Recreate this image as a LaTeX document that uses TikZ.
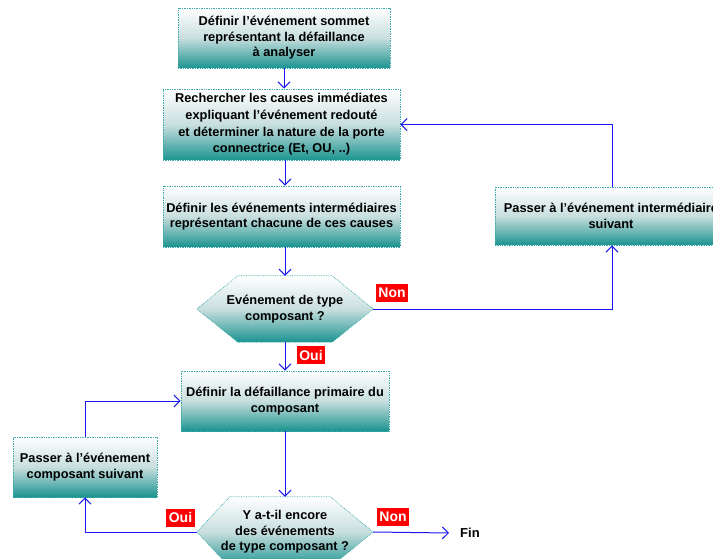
\documentclass[tikz,border=0pt]{standalone}
\usepackage{fontspec}
\setmainfont{Liberation Sans}
\usetikzlibrary{arrows.meta,backgrounds}
\definecolor{tealdark}{RGB}{27,148,144}
\definecolor{tealmid}{RGB}{200,222,222}
\definecolor{tealborder}{RGB}{60,170,170}
\definecolor{flowblue}{RGB}{25,25,240}
\tikzset{
  x=1pt, y=-1pt,
  boxtext/.style={align=center, font=\bfseries\fontsize{12.8}{15.5}\selectfont, inner sep=0pt},
  stepbox/.style={boxtext, draw=tealborder, densely dotted, line width=0.7pt,
    top color=white, bottom color=tealdark, middle color=tealmid},
  hexfill/.style={draw=tealborder, densely dotted, line width=0.7pt,
    top color=white, bottom color=tealdark, middle color=tealmid},
  flow/.style={draw=flowblue, line width=1pt, -{Straight Barb[length=6pt,width=12pt]}},
  tag/.style={fill=red, text=white, font=\bfseries\fontsize{14}{15}\selectfont,
    minimum height=18pt, inner xsep=2.5pt, inner ysep=0pt},
}
\begin{document}
\begin{tikzpicture}
\useasboundingbox (0,0) rectangle (713,559);
\clip (0,0) rectangle (713,559);

\node[stepbox, minimum width=212pt, minimum height=60pt] (b1) at (284,38)
  {Définir l’événement sommet\\représentant la défaillance\\à analyser};
\node[stepbox, minimum width=237pt, minimum height=71pt,
  font=\bfseries\fontsize{12.8}{16.7}\selectfont] (b2) at (281.5,124.5)
  {Rechercher les causes immédiates\\expliquant l’événement redouté\\et déterminer la nature de la porte\\connectrice (Et, OU, ..)};
\node[stepbox, minimum width=237pt, minimum height=61pt] (b3) at (281.5,216.5)
  {Définir les événements intermédiaires\\représentant chacune de ces causes};
\node[stepbox, minimum width=232pt, minimum height=58pt] (rb) at (611,216)
  {Passer à l’événement intermédiaire\\suivant};
\node[stepbox, minimum width=208pt, minimum height=60pt] (b4) at (285,401)
  {Définir la défaillance primaire du\\composant};
\node[stepbox, minimum width=144pt, minimum height=60pt] (b5) at (85,467)
  {Passer à l’événement\\composant suivant};

\node[boxtext, minimum width=176pt, minimum height=66pt] (h1) at (285,309)
  {Evénement de type\\composant ?};
\node[boxtext, minimum width=176pt, minimum height=70pt] (h2) at (285,532)
  {Y a-t-il encore\\des événements\\de type composant ?};

\begin{scope}[on background layer]
  \path[hexfill] (h1.west) -- ([xshift=41pt]h1.north west) -- ([xshift=-41pt]h1.north east)
    -- (h1.east) -- ([xshift=-41pt]h1.south east) -- ([xshift=41pt]h1.south west) -- cycle;
  \path[hexfill] (h2.west) -- ([xshift=33pt]h2.north west) -- ([xshift=-43pt]h2.north east)
    -- (h2.east) -- ([xshift=-43pt]h2.south east) -- ([xshift=33pt]h2.south west) -- cycle;
\end{scope}

\node[boxtext, font=\bfseries\fontsize{13}{14}\selectfont, anchor=west, inner xsep=11pt] (fin) at (449,533) {Fin};

\node[tag] (non1) at (392,293) {Non};
\node[tag] (oui1) at (311,355) {Oui};
\node[tag] (oui2) at (180.5,517.5) {Oui};
\node[tag] (non2) at (393,517) {Non};

\draw[flow] (b1.south) -- (b1.south |- b2.north);
\draw[flow] ([xshift=3.5pt]b2.south) -- ([xshift=3.5pt]b3.north);
\draw[flow] ([xshift=3.5pt]b3.south) -- (h1.north);
\draw[flow] (h1.south) -- (b4.north);
\draw[flow] (h1.east) -| ([xshift=1pt]rb.south);
\draw[flow] ([xshift=1pt]rb.north) |- (b2.east);
\draw[flow] (b4.south) -- (h2.north);
\draw[flow] (h2.west) -| (b5.south);
\draw[flow] (b5.north) |- (b4.west);
\draw[flow] (h2.east) -- (fin.west);
\end{tikzpicture}
\end{document}
